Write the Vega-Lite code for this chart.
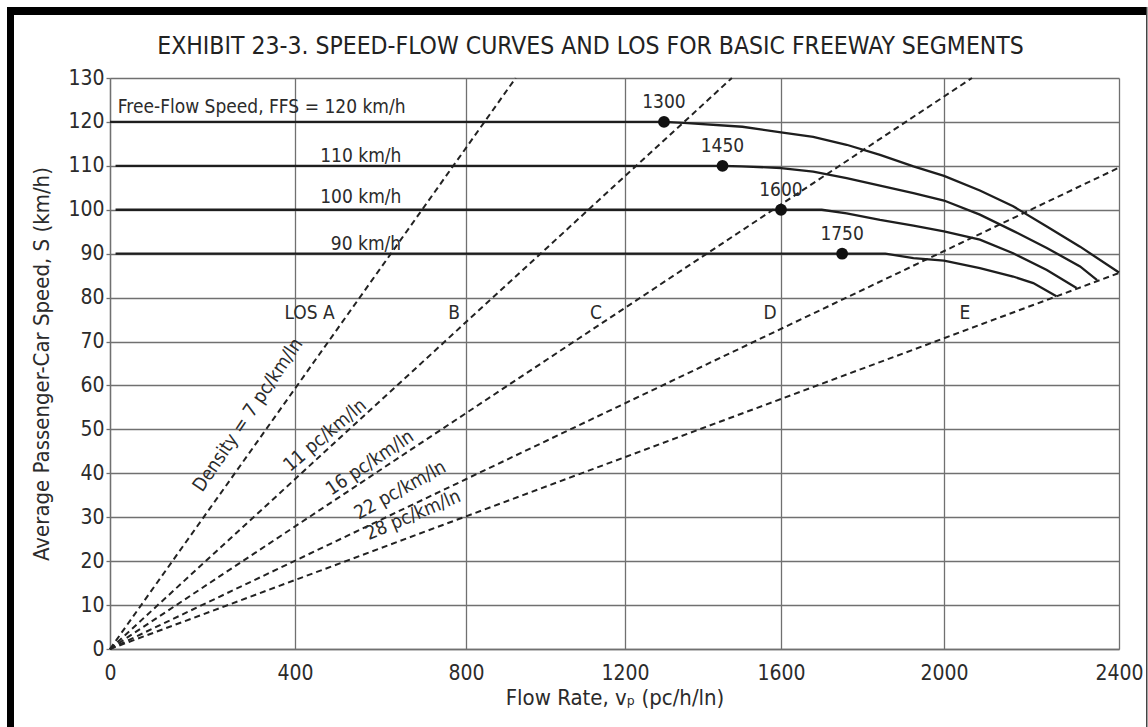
{
  "$schema": "https://vega.github.io/schema/vega-lite/v6.json",
  "background": "white",
  "padding": {"left": 7, "top": 7, "right": 0, "bottom": 0},
  "config": {
    "font": "DejaVu Sans Condensed, DejaVu Sans, sans-serif",
    "view": {"stroke": null},
    "text": {"fontSize": 19, "color": "#2b2b2b"},
    "axis": {
      "labelColor": "#2b2b2b", "titleColor": "#2b2b2b", "titleFontWeight": "normal",
      "gridColor": "#707070", "gridWidth": 1.3, "gridOpacity": 1,
      "domainColor": "#707070", "domainWidth": 1.3, "tickColor": "#707070", "tickWidth": 1.3
    }
  },
  "datasets": {
    "density": [
      {"d": "7", "flow": 0, "speed": 0}, {"d": "7", "flow": 925, "speed": 130},
      {"d": "11", "flow": 0, "speed": 0}, {"d": "11", "flow": 1474, "speed": 130},
      {"d": "16", "flow": 0, "speed": 0}, {"d": "16", "flow": 2064, "speed": 130},
      {"d": "22", "flow": 0, "speed": 0}, {"d": "22", "flow": 2400, "speed": 109.6},
      {"d": "28", "flow": 0, "speed": 0}, {"d": "28", "flow": 2400, "speed": 85.6}
    ],
    "curves": [
      {"ffs": 120, "flow": 0, "speed": 120}, {"ffs": 120, "flow": 1300, "speed": 120},
      {"ffs": 120, "flow": 1351, "speed": 119.8}, {"ffs": 120, "flow": 1501, "speed": 118.9},
      {"ffs": 120, "flow": 1600, "speed": 117.6}, {"ffs": 120, "flow": 1679, "speed": 116.6},
      {"ffs": 120, "flow": 1761, "speed": 114.8}, {"ffs": 120, "flow": 1843, "speed": 112.5},
      {"ffs": 120, "flow": 1925, "speed": 109.9}, {"ffs": 120, "flow": 2000, "speed": 107.7},
      {"ffs": 120, "flow": 2082, "speed": 104.4}, {"ffs": 120, "flow": 2158, "speed": 100.8},
      {"ffs": 120, "flow": 2235, "speed": 96.2}, {"ffs": 120, "flow": 2311, "speed": 91.6},
      {"ffs": 120, "flow": 2400, "speed": 85.7},
      {"ffs": 110, "flow": 12, "speed": 110}, {"ffs": 110, "flow": 1450, "speed": 110},
      {"ffs": 110, "flow": 1500, "speed": 109.9}, {"ffs": 110, "flow": 1600, "speed": 109.5},
      {"ffs": 110, "flow": 1679, "speed": 108.7}, {"ffs": 110, "flow": 1761, "speed": 107.2},
      {"ffs": 110, "flow": 1843, "speed": 105.5}, {"ffs": 110, "flow": 1925, "speed": 103.8},
      {"ffs": 110, "flow": 2000, "speed": 102.1}, {"ffs": 110, "flow": 2082, "speed": 98.9},
      {"ffs": 110, "flow": 2158, "speed": 95.2}, {"ffs": 110, "flow": 2235, "speed": 91.3},
      {"ffs": 110, "flow": 2311, "speed": 87.1}, {"ffs": 110, "flow": 2350, "speed": 84.0},
      {"ffs": 100, "flow": 12, "speed": 100}, {"ffs": 100, "flow": 1600, "speed": 100},
      {"ffs": 100, "flow": 1700, "speed": 100}, {"ffs": 100, "flow": 1761, "speed": 99.2},
      {"ffs": 100, "flow": 1843, "speed": 97.7}, {"ffs": 100, "flow": 1925, "speed": 96.4},
      {"ffs": 100, "flow": 2000, "speed": 95.1}, {"ffs": 100, "flow": 2082, "speed": 93.2},
      {"ffs": 100, "flow": 2158, "speed": 90.1}, {"ffs": 100, "flow": 2235, "speed": 86.3},
      {"ffs": 100, "flow": 2303, "speed": 82.2},
      {"ffs": 90, "flow": 12, "speed": 90}, {"ffs": 90, "flow": 1750, "speed": 90},
      {"ffs": 90, "flow": 1856, "speed": 90}, {"ffs": 90, "flow": 1925, "speed": 89.0},
      {"ffs": 90, "flow": 2000, "speed": 88.4}, {"ffs": 90, "flow": 2082, "speed": 86.7},
      {"ffs": 90, "flow": 2158, "speed": 84.8}, {"ffs": 90, "flow": 2204, "speed": 83.3},
      {"ffs": 90, "flow": 2257, "speed": 80.3}
    ],
    "breakpoints": [
      {"flow": 1300, "speed": 120}, {"flow": 1450, "speed": 110},
      {"flow": 1600, "speed": 100}, {"flow": 1750, "speed": 90}
    ],
    "notes": [
      {"kind": "ffs", "label": "Free-Flow Speed, FFS = 120 km/h", "flow": 17, "speed": 122.1},
      {"kind": "speed", "label": "110 km/h", "flow": 554, "speed": 110.9},
      {"kind": "speed", "label": "100 km/h", "flow": 554, "speed": 101.6},
      {"kind": "speed", "label": "90 km/h", "flow": 566, "speed": 90.9},
      {"kind": "los", "label": "LOS A", "flow": 434, "speed": 75.1},
      {"kind": "los", "label": "B", "flow": 772, "speed": 75.1},
      {"kind": "los", "label": "C", "flow": 1127, "speed": 75.1},
      {"kind": "los", "label": "D", "flow": 1572, "speed": 75.1},
      {"kind": "los", "label": "E", "flow": 2048, "speed": 75.1}
    ],
    "densityLabels": [
      {"d": "7", "label": "Density = 7 pc/km/ln", "flow": 298, "speed": 53.3},
      {"d": "11", "label": "11 pc/km/ln", "flow": 470, "speed": 48.7},
      {"d": "16", "label": "16 pc/km/ln", "flow": 575, "speed": 42.4},
      {"d": "22", "label": "22 pc/km/ln", "flow": 646, "speed": 36.2},
      {"d": "28", "label": "28 pc/km/ln", "flow": 676, "speed": 30.5}
    ]
  },
  "bounds": "flush",
  "spacing": 1139,
  "hconcat": [
    {
      "bounds": "flush",
      "spacing": 0,
      "vconcat": [
        {
          "width": 1140, "height": 8,
          "view": {"fill": "black", "stroke": null},
          "data": {"values": []},
          "mark": {"type": "point", "opacity": 0}
        },
        {
          "bounds": "flush",
          "spacing": 96,
          "hconcat": [
            {
              "width": 7, "height": 712,
              "view": {"fill": "black", "stroke": null},
              "data": {"values": []},
              "mark": {"type": "point", "opacity": 0}
            },
            {
              "bounds": "flush",
              "spacing": 62,
              "vconcat": [
                {
                  "width": 1009, "height": 1,
                  "view": {"stroke": null},
                  "data": {"values": []},
                  "mark": {"type": "point", "opacity": 0}
                },
                {
                  "width": 1009, "height": 571,
                  "title": {
                    "text": "EXHIBIT 23-3.  SPEED-FLOW CURVES AND LOS FOR BASIC FREEWAY SEGMENTS",
                    "fontSize": 24.5, "fontWeight": "normal", "color": "#222",
                    "anchor": "middle", "frame": "group", "dx": -24, "offset": -11, "baseline": "alphabetic"
                  },
                  "encoding": {
                    "x": {
                      "field": "flow", "type": "quantitative",
                      "scale": {"domain": [0, 400, 800, 1200, 1600, 2000, 2400], "range": [0, 185, 356, 515, 671, 834, 1009], "nice": false, "zero": false},
                      "axis": {
                        "values": [0, 400, 800, 1200, 1600, 2000, 2400], "format": "d",
                        "title": "Flow Rate, vₚ (pc/h/ln)", "titleFontSize": 22, "titlePadding": 4,
                        "labelFontSize": 21, "labelPadding": 13, "ticks": false, "labelFlush": false, "labelOverlap": false
                      }
                    },
                    "y": {
                      "field": "speed", "type": "quantitative",
                      "scale": {"domain": [0, 130], "nice": false},
                      "axis": {
                        "values": [0, 10, 20, 30, 40, 50, 60, 70, 80, 90, 100, 110, 120, 130],
                        "title": "Average Passenger-Car Speed, S (km/h)", "titleFontSize": 22, "titlePadding": 14,
                        "labelFontSize": 21, "labelPadding": 2, "tickSize": 4, "labelOverlap": false, "labelFlush": false
                      }
                    }
                  },
                  "layer": [
                    {
                      "data": {"name": "density"},
                      "mark": {"type": "line", "strokeDash": [6, 4], "strokeWidth": 2, "color": "#222"},
                      "encoding": {"detail": {"field": "d", "type": "nominal"}}
                    },
                    {
                      "data": {"name": "curves"},
                      "mark": {"type": "line", "strokeWidth": 2.3, "color": "#1e1e1e"},
                      "encoding": {"detail": {"field": "ffs", "type": "nominal"}}
                    },
                    {
                      "data": {"name": "breakpoints"},
                      "mark": {"type": "circle", "size": 140, "color": "#111", "opacity": 1},
                      "encoding": {}
                    },
                    {
                      "data": {"name": "breakpoints"},
                      "mark": {"type": "text", "dy": -14, "baseline": "alphabetic", "align": "center"},
                      "encoding": {"text": {"field": "flow", "type": "quantitative", "format": "d"}}
                    },
                    {
                      "data": {"name": "notes"},
                      "transform": [{"filter": "datum.kind === 'ffs'"}],
                      "mark": {"type": "text", "baseline": "alphabetic", "align": "left"},
                      "encoding": {"text": {"field": "label", "type": "nominal"}}
                    },
                    {
                      "data": {"name": "notes"},
                      "transform": [{"filter": "datum.kind !== 'ffs'"}],
                      "mark": {"type": "text", "baseline": "alphabetic", "align": "center"},
                      "encoding": {"text": {"field": "label", "type": "nominal"}}
                    },
                    {
                      "data": {"name": "densityLabels"},
                      "transform": [{"filter": "datum.d === '7'"}],
                      "mark": {"type": "text", "baseline": "middle", "align": "center", "angle": 304},
                      "encoding": {"text": {"field": "label", "type": "nominal"}}
                    },
                    {
                      "data": {"name": "densityLabels"},
                      "transform": [{"filter": "datum.d === '11'"}],
                      "mark": {"type": "text", "baseline": "middle", "align": "center", "angle": 320},
                      "encoding": {"text": {"field": "label", "type": "nominal"}}
                    },
                    {
                      "data": {"name": "densityLabels"},
                      "transform": [{"filter": "datum.d === '16'"}],
                      "mark": {"type": "text", "baseline": "middle", "align": "center", "angle": 326},
                      "encoding": {"text": {"field": "label", "type": "nominal"}}
                    },
                    {
                      "data": {"name": "densityLabels"},
                      "transform": [{"filter": "datum.d === '22'"}],
                      "mark": {"type": "text", "baseline": "middle", "align": "center", "angle": 331},
                      "encoding": {"text": {"field": "label", "type": "nominal"}}
                    },
                    {
                      "data": {"name": "densityLabels"},
                      "transform": [{"filter": "datum.d === '28'"}],
                      "mark": {"type": "text", "baseline": "middle", "align": "center", "angle": 337},
                      "encoding": {"text": {"field": "label", "type": "nominal"}}
                    }
                  ]
                }
              ]
            }
          ]
        }
      ]
    },
    {
      "width": 1.5, "height": 720,
      "view": {"fill": "#444", "stroke": null},
      "data": {"values": []},
      "mark": {"type": "point", "opacity": 0}
    }
  ]
}
